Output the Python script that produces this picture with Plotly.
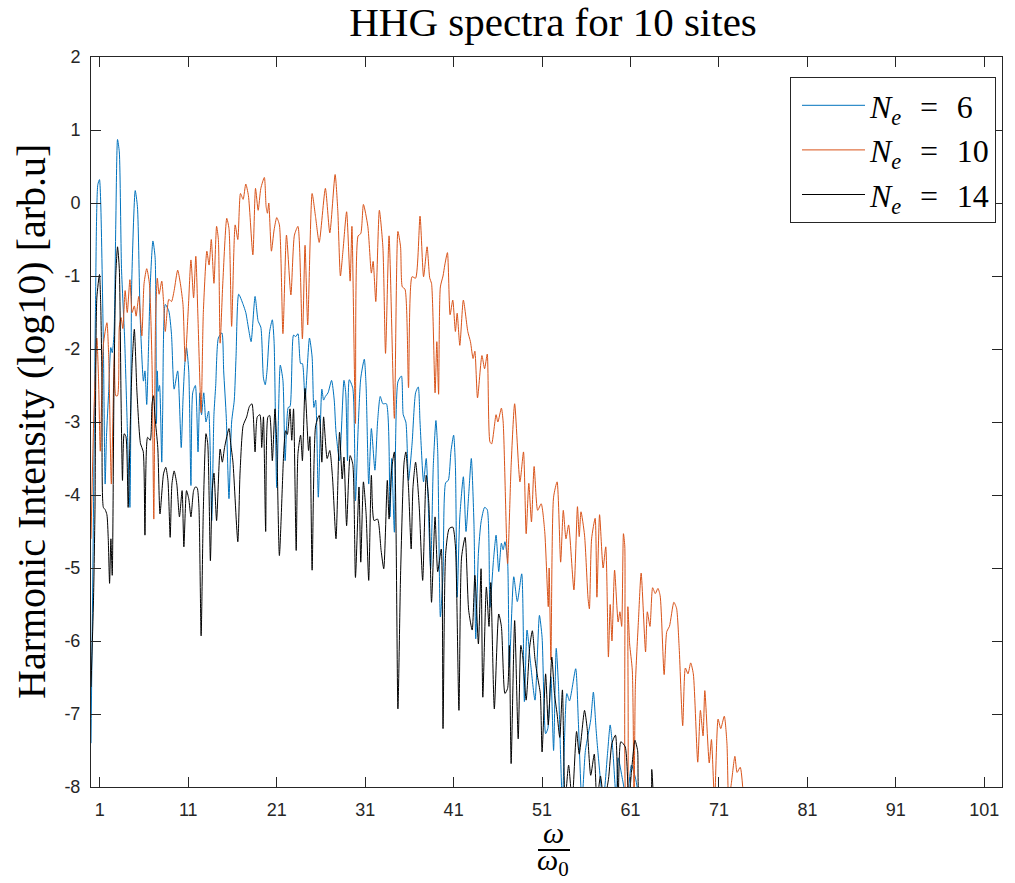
import plotly.graph_objects as go

# ---------------- data ----------------
harm_ne6 = [0.0, 0.3, 0.5, 0.77, 0.96, 1.1, 1.4, 1.6, 1.75, 2.0, 2.24, 2.4, 2.6, 2.8, 3.0, 3.2, 3.45, 3.8, 4.05, 4.4, 4.5, 4.6, 5.0, 5.25, 5.56, 5.93, 6.1, 6.3, 6.5, 6.7, 7.0, 7.25, 7.4, 7.5, 7.6, 7.75, 8.0, 8.1, 8.4, 8.8, 9.1, 9.4, 9.8, 10.2, 10.4, 10.6, 10.8, 11.05, 11.3, 11.5, 11.8, 12.1, 12.3, 12.5, 12.75, 13.0, 13.3, 13.65, 13.9, 14.1, 14.4, 14.8, 15.0, 15.3, 15.6, 15.9, 16.2, 16.4, 16.7, 17.2, 17.5, 17.85, 18.1, 18.55, 18.9, 19.2, 19.5, 19.7, 19.9, 20.2, 20.5, 20.7, 21.0, 21.4, 21.7, 21.95, 22.3, 22.5, 22.9, 23.15, 23.4, 23.7, 23.9, 24.2, 24.7, 25.0, 25.2, 25.4, 25.7, 26.1, 26.3, 26.5, 26.8, 27.2, 27.5, 27.7, 28.1, 28.6, 28.8, 29.0, 29.2, 29.6, 29.9, 30.2, 30.5, 30.9, 31.1, 31.4, 31.7, 32.1, 32.4, 32.7, 33.0, 33.4, 33.8, 34.0, 34.3, 34.7, 35.1, 35.3, 35.6, 35.9, 36.3, 36.7, 37.0, 37.2, 37.6, 37.9, 38.4, 38.7, 39.0, 39.2, 39.5, 39.8, 40.1, 40.4, 40.7, 41.0, 41.2, 41.4, 41.7, 42.1, 42.4, 42.7, 43.0, 43.3, 43.5, 43.8, 44.1, 44.5, 44.8, 45.1, 45.5, 45.8, 46.1, 46.4, 46.6, 46.8, 47.1, 47.3, 47.8, 48.2, 48.7, 49.0, 49.3, 49.7, 50.2, 50.7, 51.0, 51.4, 51.65, 52.0, 52.3, 52.6, 52.85, 53.3, 53.8, 54.1, 54.8, 55.1, 55.5, 55.9, 56.5, 56.8, 57.1, 57.3, 57.9, 58.4, 58.7, 59.0, 59.4, 59.6, 60.1, 60.6, 61.1, 61.6, 62.0]
log_ne6 = [-7.4, -4.0, -1.5, 0.25, 0.32, 0.0, -1.95, -3.85, -3.2, -2.58, -1.98, -2.05, -1.8, -0.3, 0.87, 0.7, -0.9, -1.85, -2.85, -4.17, -3.0, -1.12, 0.17, -0.05, -1.57, -2.44, -2.3, -2.76, -2.0, -1.12, -0.52, -0.75, -3.02, -2.3, -2.58, -2.5, -3.55, -2.9, -1.39, -1.48, -1.8, -2.55, -2.3, -3.35, -2.7, -2.21, -1.98, -2.3, -3.87, -2.6, -2.5, -3.41, -2.6, -2.9, -2.6, -3.0, -2.85, -4.35, -2.9, -2.5, -1.85, -1.78, -2.3, -2.95, -4.05, -3.0, -2.7, -2.1, -1.25, -1.39, -1.5, -1.75, -1.9, -1.28, -1.62, -1.7, -2.4, -2.49, -2.3, -1.76, -1.6, -1.9, -3.9, -2.22, -2.43, -3.53, -2.8, -2.79, -1.81, -1.83, -1.79, -2.2, -2.2, -2.7, -1.85, -2.11, -2.8, -2.7, -4.03, -2.55, -2.7, -2.65, -2.6, -2.43, -2.7, -3.14, -3.53, -2.43, -2.6, -3.53, -2.42, -2.54, -4.08, -3.1, -2.4, -2.14, -2.5, -3.85, -3.09, -3.66, -3.0, -2.65, -2.75, -2.75, -4.3, -3.5, -4.51, -2.45, -2.37, -2.9, -3.0, -3.8, -3.3, -2.6, -2.52, -3.0, -3.82, -3.5, -5.01, -3.6, -2.98, -3.4, -5.67, -5.1, -3.83, -3.8, -3.4, -3.18, -3.6, -5.4, -4.3, -3.75, -4.5, -4.0, -3.5, -4.4, -5.97, -4.8, -4.37, -4.17, -4.2, -5.54, -4.9, -4.55, -5.05, -4.66, -4.75, -4.64, -4.9, -6.36, -5.12, -5.46, -5.08, -6.83, -5.85, -6.31, -6.81, -5.65, -5.95, -7.27, -7.2, -6.49, -7.5, -6.1, -6.6, -8.2, -6.72, -6.82, -6.38, -7.1, -8.2, -7.5, -7.08, -6.7, -7.2, -7.5, -8.2, -7.54, -7.15, -7.5, -8.2, -7.6, -7.9, -8.2, -7.7, -7.9, -8.2]

harm_ne10 = [0.0, 0.3, 0.66, 0.85, 1.05, 1.4, 1.8, 2.0, 2.3, 2.65, 2.8, 3.0, 3.2, 3.4, 3.6, 3.86, 4.1, 4.4, 4.65, 4.9, 5.1, 5.4, 5.75, 6.0, 6.3, 6.6, 6.9, 7.1, 7.3, 7.5, 7.7, 8.0, 8.2, 8.4, 8.8, 9.1, 9.4, 9.8, 10.1, 10.4, 10.65, 11.0, 11.3, 11.6, 11.85, 12.1, 12.45, 12.7, 13.1, 13.35, 13.6, 13.9, 14.2, 14.4, 14.6, 14.9, 15.35, 15.6, 15.9, 16.3, 16.6, 16.9, 17.2, 17.5, 17.8, 18.3, 18.6, 18.9, 19.2, 19.6, 19.8, 19.95, 20.1, 20.4, 20.7, 21.0, 21.3, 21.7, 22.1, 22.6, 23.0, 23.4, 23.9, 24.2, 24.5, 25.0, 25.4, 25.8, 26.5, 27.0, 27.6, 27.9, 28.2, 28.5, 28.9, 29.3, 29.5, 29.9, 30.2, 30.5, 30.8, 31.3, 31.7, 31.9, 32.2, 32.6, 33.0, 33.3, 33.7, 34.3, 34.7, 35.0, 35.2, 35.5, 35.9, 36.3, 36.7, 37.2, 37.6, 38.0, 38.3, 38.5, 38.9, 39.1, 39.3, 39.5, 39.8, 40.0, 40.3, 40.6, 40.9, 41.2, 41.4, 41.7, 42.1, 42.6, 42.9, 43.2, 43.4, 43.7, 44.2, 44.5, 44.8, 45.1, 45.3, 45.8, 46.0, 46.4, 46.6, 47.1, 47.5, 47.9, 48.5, 48.9, 49.2, 49.5, 49.8, 50.1, 50.5, 50.9, 51.3, 51.7, 51.8, 52.0, 52.3, 52.7, 53.1, 53.4, 53.7, 54.0, 54.6, 55.0, 55.2, 55.4, 55.8, 56.2, 56.35, 56.6, 57.0, 57.2, 57.5, 57.9, 58.2, 58.5, 58.7, 58.9, 59.2, 59.6, 59.8, 60.0, 60.2, 60.35, 60.5, 60.6, 60.7, 60.9, 61.2, 61.4, 61.55, 61.9, 62.2, 62.7, 62.9, 63.2, 63.5, 63.8, 64.1, 64.35, 64.8, 65.1, 65.4, 65.9, 66.2, 66.5, 66.9, 67.2, 67.5, 67.8, 68.1, 68.6, 68.9, 69.2, 69.4, 69.9, 70.15, 70.5, 70.9, 71.2, 71.6, 71.9, 72.1, 72.4, 72.8, 73.05, 73.4, 73.8]
log_ne10 = [-4.6, -3.0, -1.85, -2.4, -3.4, -1.94, -1.64, -2.1, -3.85, -2.03, -2.64, -2.64, -1.7, -1.57, -1.72, -1.2, -1.5, -1.05, -1.5, -1.41, -1.55, -1.28, -1.82, -1.1, -0.9, -1.1, -2.21, -4.33, -1.6, -1.03, -1.25, -1.07, -1.35, -1.76, -1.32, -1.35, -1.2, -0.92, -1.1, -1.39, -2.17, -1.45, -0.78, -1.3, -0.73, -1.6, -2.87, -1.5, -0.66, -0.85, -0.5, -1.1, -0.32, -0.5, -1.92, -1.1, -0.21, -0.35, -1.69, -0.3, -0.5, 0.13, 0.05, 0.26, 0.1, -0.71, 0.2, -0.1, 0.2, 0.35, -0.05, -0.14, 0.0, -0.66, -0.37, -0.2, -0.3, -1.79, -0.44, -1.26, -0.44, -0.32, -1.86, -0.58, -1.67, 0.13, -0.2, -0.54, 0.2, -0.41, 0.39, -0.1, -1.0, -0.64, -0.12, -1.07, -0.32, -3.02, -0.45, -0.42, -0.02, -0.32, -0.96, -0.8, -1.35, -0.1, -0.6, -2.06, -0.45, -2.95, -0.39, -0.6, -1.15, -1.18, -2.53, -1.01, -1.03, -0.18, -1.01, -0.6, -1.03, -1.1, -2.6, -1.9, -2.62, -1.15, -1.0, -0.85, -0.68, -1.53, -1.33, -1.76, -1.51, -1.95, -1.33, -1.76, -1.9, -2.13, -2.03, -2.67, -2.09, -2.27, -2.07, -3.27, -3.3, -2.9, -3.0, -2.81, -3.0, -4.94, -3.6, -2.75, -3.82, -3.41, -4.53, -3.84, -4.37, -3.61, -4.21, -4.12, -4.5, -5.53, -5.0, -6.26, -4.03, -3.82, -4.92, -4.21, -4.6, -4.41, -5.3, -4.16, -4.57, -4.23, -4.55, -5.42, -5.56, -4.6, -4.32, -5.4, -4.27, -5.0, -4.71, -6.22, -5.5, -6.0, -5.03, -5.74, -5.6, -5.8, -4.53, -4.7, -8.2, -8.2, -5.53, -6.04, -6.4, -8.2, -6.6, -5.71, -5.07, -6.15, -5.6, -5.8, -5.27, -5.35, -5.28, -5.38, -6.46, -5.87, -5.8, -5.47, -5.55, -6.09, -7.16, -6.37, -6.45, -6.3, -6.45, -7.66, -6.95, -7.3, -6.68, -7.67, -7.35, -8.2, -7.07, -7.2, -7.03, -7.4, -8.2, -7.95, -7.58, -7.8, -7.73, -8.2]

harm_ne14 = [0.0, 0.28, 0.45, 0.66, 0.96, 1.1, 1.25, 1.4, 1.6, 1.8, 1.95, 2.1, 2.25, 2.4, 2.6, 2.8, 3.0, 3.2, 3.4, 3.56, 3.75, 3.95, 4.2, 4.45, 4.65, 4.9, 5.2, 5.6, 5.9, 6.1, 6.4, 6.7, 6.9, 7.06, 7.25, 7.55, 7.8, 8.2, 8.45, 8.7, 8.95, 9.15, 9.4, 9.7, 10.0, 10.3, 10.5, 10.8, 11.05, 11.3, 11.6, 11.8, 12.0, 12.2, 12.45, 12.7, 13.0, 13.2, 13.5, 13.7, 13.9, 14.2, 14.6, 14.85, 15.1, 15.6, 15.8, 16.05, 16.6, 16.85, 17.2, 17.6, 17.9, 18.2, 18.55, 18.8, 19.1, 19.3, 19.5, 19.75, 20.0, 20.2, 20.5, 20.8, 21.0, 21.3, 21.8, 22.0, 22.2, 22.5, 22.7, 22.9, 23.2, 23.4, 23.7, 23.9, 24.2, 24.6, 24.75, 25.0, 25.4, 25.8, 26.1, 26.3, 26.7, 27.0, 27.3, 27.7, 28.1, 28.4, 28.6, 28.9, 29.3, 29.6, 29.9, 30.3, 30.5, 30.8, 31.1, 31.4, 31.7, 32.0, 32.4, 32.8, 33.1, 33.5, 33.7, 34.0, 34.3, 34.7, 35.0, 35.4, 35.6, 35.9, 36.2, 36.4, 36.7, 37.1, 37.5, 37.9, 38.2, 38.5, 38.9, 39.2, 39.6, 39.8, 40.1, 40.5, 40.9, 41.2, 41.6, 41.9, 42.3, 42.7, 43.1, 43.4, 43.8, 44.1, 44.3, 44.7, 45.0, 45.2, 45.6, 46.1, 46.4, 46.8, 47.1, 47.3, 47.5, 47.9, 48.3, 48.6, 48.8, 49.2, 49.6, 49.9, 50.2, 50.5, 50.8, 51.0, 51.4, 51.7, 52.1, 52.4, 52.7, 53.0, 53.3, 53.6, 54.0, 54.4, 54.9, 55.2, 55.8, 56.1, 56.5, 56.9, 57.2, 57.6, 58.0, 58.5, 58.9, 59.3, 59.6, 59.9, 60.4, 60.8, 61.1, 61.5, 61.8, 62.1, 63.2, 63.4, 63.6]
log_ne14 = [-6.63, -5.45, -4.2, -1.3, -0.98, -1.4, -2.5, -4.17, -4.2, -4.27, -4.6, -5.21, -4.6, -5.1, -2.5, -1.0, -0.6, -0.9, -2.7, -3.8, -3.16, -3.2, -4.17, -3.0, -2.2, -1.73, -2.6, -3.3, -3.4, -4.55, -3.21, -3.25, -2.75, -2.64, -2.95, -3.35, -4.26, -3.71, -3.62, -3.8, -4.58, -3.85, -3.67, -3.85, -4.3, -3.94, -4.71, -3.94, -4.05, -4.3, -3.94, -3.89, -3.9, -4.15, -5.93, -4.2, -3.16, -3.3, -4.9, -3.94, -3.7, -4.35, -3.37, -3.55, -3.35, -3.09, -3.3, -3.55, -4.64, -3.7, -3.05, -2.93, -2.79, -2.75, -3.41, -2.93, -2.9, -3.35, -2.93, -4.5, -2.93, -2.91, -3.53, -2.82, -3.3, -4.83, -3.39, -3.12, -3.17, -2.82, -3.25, -2.82, -4.76, -3.43, -3.18, -3.53, -2.54, -3.39, -3.2, -5.03, -3.05, -2.91, -3.55, -2.93, -3.5, -3.39, -3.75, -4.6, -3.14, -3.78, -3.48, -4.42, -3.46, -3.58, -5.13, -3.89, -4.92, -3.82, -4.25, -5.17, -3.73, -4.35, -4.33, -4.76, -5.01, -3.8, -4.33, -3.64, -3.41, -6.93, -5.1, -3.55, -3.41, -3.9, -4.74, -3.9, -3.55, -4.14, -5.17, -3.73, -4.12, -5.47, -4.3, -5.05, -4.74, -7.2, -4.8, -4.46, -4.44, -4.7, -6.95, -4.85, -4.58, -5.58, -5.85, -5.1, -6.04, -5.01, -6.77, -5.26, -5.8, -5.2, -6.93, -5.63, -5.8, -6.72, -6.65, -6.06, -7.68, -5.72, -7.34, -6.06, -6.2, -6.81, -6.08, -5.86, -6.25, -6.5, -6.72, -7.52, -6.45, -7.15, -6.22, -6.72, -7.0, -7.32, -6.67, -8.2, -7.7, -8.2, -7.24, -7.55, -6.95, -7.2, -7.84, -7.55, -8.2, -7.85, -8.2, -7.9, -7.4, -7.29, -8.2, -7.38, -7.45, -8.2, -7.8, -7.36, -7.5, -8.2, -8.2, -7.76, -8.2]

SP = "\u2002\u200a"
series_names = ["<i>N</i><sub><i>e</i></sub>" + SP + "=" + SP + "6",
                "<i>N</i><sub><i>e</i></sub>" + SP + "=" + SP + "10",
                "<i>N</i><sub><i>e</i></sub>" + SP + "=" + SP + "14"]
x_tick_vals = [1, 11, 21, 31, 41, 51, 61, 71, 81, 91, 101]
y_tick_vals = [-8, -7, -6, -5, -4, -3, -2, -1, 0, 1, 2]
y_tick_text = ["-8", "-7", "-6", "-5", "-4", "-3", "-2", "-1", "0", "1", "2"]

# ---------------- figure ----------------
colors = ["#0072BD", "#D95319", "#000000"]
xs = [harm_ne6, harm_ne10, harm_ne14]
ys = [log_ne6, log_ne10, log_ne14]

fig = go.Figure()
for i in range(3):
    fig.add_trace(go.Scatter(
        x=xs[i], y=ys[i], mode="lines", name=series_names[i],
        line=dict(color=colors[i], width=1, shape="spline", smoothing=0.6),
    ))

axis_col = "#262626"
W, H = 1015, 883
L, R, T, B = 91, 13, 57, 96
PW, PH = W - L - R, H - T - B
SERIF = "Liberation Serif, Times New Roman, serif"

fig.update_layout(
    width=W, height=H,
    margin=dict(l=L, r=R, t=T, b=B),
    paper_bgcolor="white", plot_bgcolor="white",
    showlegend=True,
    legend=dict(
        x=(996 - L) / PW, y=1 - (77 - T) / PH, xanchor="right", yanchor="top",
        bgcolor="white", bordercolor=axis_col, borderwidth=1,
        font=dict(family=SERIF, size=32, color="black"),
        itemwidth=63, indentation=6,
    ),
    title=dict(text="HHG spectra for 10 sites", x=(553 - L) / PW, xref="paper",
               xanchor="center", y=1 - 22 / H, yanchor="middle",
               font=dict(family=SERIF, size=41, color="black")),
    font=dict(family="Liberation Sans", size=18, color=axis_col),
)
fig.update_xaxes(
    range=[0, 103], tickvals=x_tick_vals, ticks="inside", ticklen=10,
    tickcolor=axis_col, showline=True, linecolor=axis_col, linewidth=1,
    mirror="ticks", showgrid=False, zeroline=False, ticklabelstandoff=6,
    tickfont=dict(family="Liberation Sans", size=18, color=axis_col),
)
fig.update_yaxes(
    range=[-8, 2], tickvals=y_tick_vals, ticktext=y_tick_text,
    ticks="inside", ticklen=10, tickcolor=axis_col, showline=True,
    linecolor=axis_col, linewidth=1, mirror="ticks", showgrid=False,
    zeroline=False, ticklabelstandoff=6,
    tickfont=dict(family="Liberation Sans", size=18, color=axis_col),
)

# y-axis label
fig.add_annotation(text="Harmonic Intensity (log10) [arb.u]", textangle=-90,
                   xref="paper", yref="paper", x=(31 - L) / PW, y=0.5,
                   xanchor="center", yanchor="middle", showarrow=False,
                   font=dict(family=SERIF, size=40, color="black"))
# x-axis label as a fraction omega / omega_0
cx = (553 - L) / PW
fig.add_annotation(text="<i>ω</i>", xref="paper", yref="paper",
                   x=cx, y=-(832 - (T + PH)) / PH, xanchor="center",
                   yanchor="middle", showarrow=False,
                   font=dict(family=SERIF, size=30, color="black"))
fig.add_annotation(text="<i>ω</i><sub>0</sub>", xref="paper", yref="paper",
                   x=cx, y=-(862 - (T + PH)) / PH, xanchor="center",
                   yanchor="middle", showarrow=False,
                   font=dict(family=SERIF, size=30, color="black"))
fig.add_shape(type="line", xref="paper", yref="paper",
              x0=(538 - L) / PW, x1=(570 - L) / PW,
              y0=-(850 - (T + PH)) / PH, y1=-(850 - (T + PH)) / PH,
              line=dict(color="black", width=2))

fig.write_html("out.html")
